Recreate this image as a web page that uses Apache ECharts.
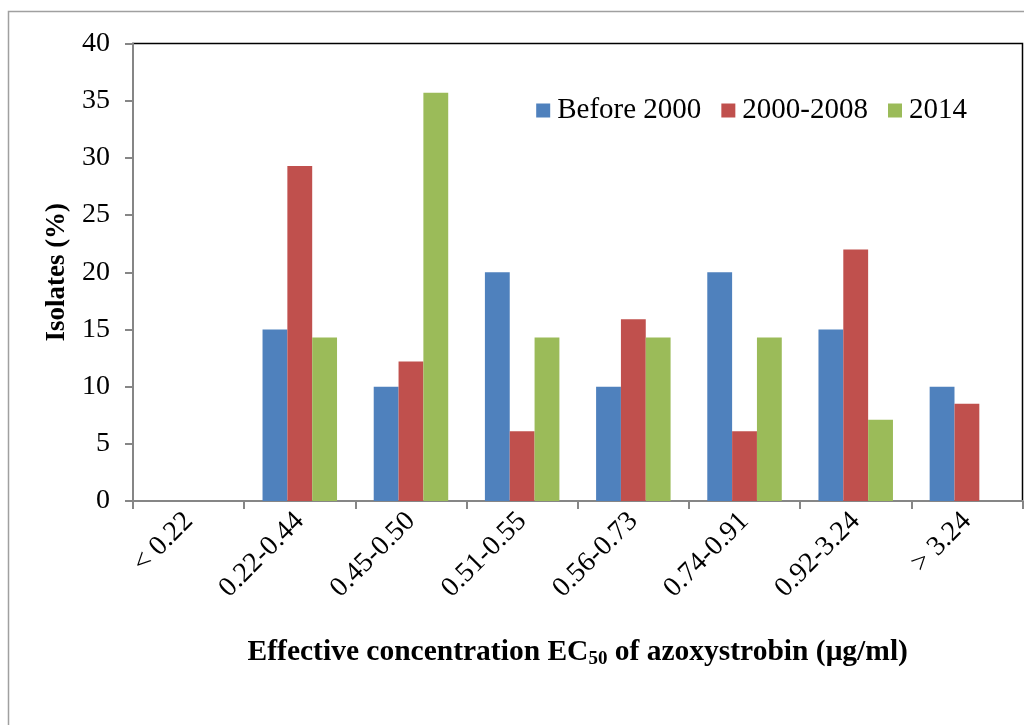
<!DOCTYPE html>
<html>
<head>
<meta charset="utf-8">
<script src="https://cdn.jsdelivr.net/npm/echarts@6/dist/echarts.min.js"></script>
<style>html,body{margin:0;padding:0;background:#fff;}#c{width:1024px;height:725px;}</style>
</head>
<body>
<div id="c"></div>
<script>
const categories = ['< 0.22', '0.22-0.44', '0.45-0.50', '0.51-0.55', '0.56-0.73', '0.74-0.91', '0.92-3.24', '> 3.24'];
const before2000 = [0, 15, 10, 20, 10, 20, 15, 10];
const y2000_2008 = [0, 29.3, 12.2, 6.1, 15.9, 6.1, 22.0, 8.5];
const y2014 = [0, 14.3, 35.7, 14.3, 14.3, 14.3, 7.1, 0];
const seriesNames = ['Before 2000', '2000-2008', '2014'];
const colors = ['#4F81BD', '#C0504D', '#9BBB59'];

const chart = echarts.init(document.getElementById('c'));
const font = '"Liberation Serif", "Times New Roman", serif';
chart.setOption({
  animation: false,
  textStyle: { fontFamily: font, color: '#000' },
  color: colors,
  graphic: [{
    type: 'rect', shape: { x: 8.5, y: 11.5, width: 1040, height: 740 },
    style: { fill: 'none', stroke: '#a0a0a0', lineWidth: 1.5 }, z: -10
  }],
  legend: {
    right: 52, top: 91,
    itemWidth: 14, itemHeight: 14, itemGap: 20,
    icon: 'rect',
    textStyle: { fontFamily: font, fontSize: 29, color: '#000', padding: [0, 0, 0, 2] },
    data: seriesNames
  },
  grid: {
    left: 133, right: 1.5, top: 43.5, bottom: 224,
    show: true, borderColor: '#000', borderWidth: 1.5, backgroundColor: 'transparent'
  },
  xAxis: {
    type: 'category', data: categories,
    axisLine: { lineStyle: { color: '#868686', width: 2 } },
    axisTick: { show: true, alignWithLabel: false, length: 8, lineStyle: { color: '#868686', width: 2 } },
    axisLabel: { rotate: 45, margin: 16, fontSize: 28, color: '#000', fontFamily: font, interval: 0 },
    name: 'Effective concentration EC{sub|50} of azoxystrobin (μg/ml)',
    nameLocation: 'middle', nameGap: 135,
    nameTextStyle: {
      fontSize: 29.5, fontWeight: 'bold', color: '#000', fontFamily: font,
      rich: { sub: { fontSize: 19, fontWeight: 'bold', fontFamily: font, verticalAlign: 'bottom', padding: [14, 0, 0, 0] } }
    }
  },
  yAxis: {
    type: 'value', min: 0, max: 40, interval: 5,
    axisLine: { show: true, lineStyle: { color: '#868686', width: 2 } },
    axisTick: { show: true, length: 8, lineStyle: { color: '#868686', width: 2 } },
    splitLine: { show: false },
    axisLabel: { fontSize: 28, color: '#000', fontFamily: font, margin: 23 },
    name: 'Isolates (%)', nameLocation: 'middle', nameGap: 62, nameRotate: 90,
    nameTextStyle: { fontSize: 27, fontWeight: 'bold', color: '#000', fontFamily: font }
  },
  series: [
    { name: seriesNames[0], type: 'bar', data: before2000, barGap: '0%', barCategoryGap: '33%' },
    { name: seriesNames[1], type: 'bar', data: y2000_2008, barGap: '0%', barCategoryGap: '33%' },
    { name: seriesNames[2], type: 'bar', data: y2014, barGap: '0%', barCategoryGap: '33%' }
  ]
});
</script>
</body>
</html>
